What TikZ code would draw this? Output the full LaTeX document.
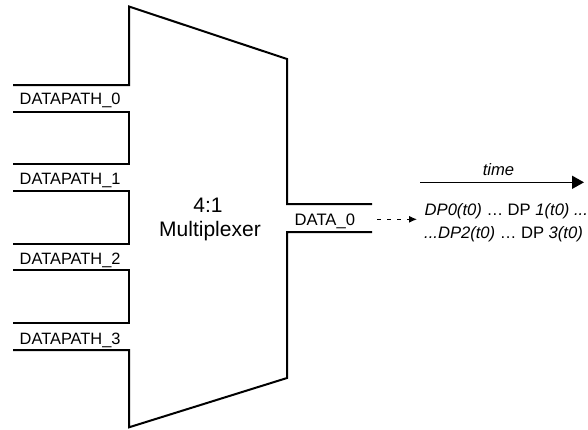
\documentclass[tikz,border=0pt]{standalone}
\usepackage{fontspec}
\setmainfont{Liberation Sans}
\usetikzlibrary{arrows.meta}
\begin{document}
\begin{tikzpicture}[x=1bp,y=-1bp,
  wire/.style={line width=2bp, line join=miter},
  lbl/.style={inner sep=0pt, anchor=base west, font=\fontsize{16.4bp}{19bp}\selectfont},
  mid/.style={inner sep=0pt, anchor=base, font=\fontsize{21bp}{24bp}\selectfont},
  seqtxt/.style={inner sep=0pt, anchor=base west, font=\fontsize{16.6bp}{19bp}\selectfont}]
\useasboundingbox (0,0) rectangle (588,429);
% multiplexer body
\draw[wire] (13,85) -- (129,85) -- (129,6.5) -- (287,59) -- (287,204) -- (372,204);
\draw[wire] (372,232) -- (287,232) -- (287,378) -- (129,427.3) -- (129,350) -- (13,350);
\foreach \a/\b in {112/164, 191/244, 270/323}
  \draw[wire] (13,\a) -- (129,\a) -- (129,\b) -- (13,\b);
% input labels
\node[lbl] (dp0) at (19.5,104.3) {DATAPATH\_0};
\node[lbl] (dp1) at (19.5,184.5) {DATAPATH\_1};
\node[lbl] (dp2) at (19.5,264) {DATAPATH\_2};
\node[lbl] (dp3) at (19.5,344) {DATAPATH\_3};
% title
\node[mid] (ratio) at (208,212.7) {4:1};
\node[mid] (mux) at (210,236.7) {Multiplexer};
% output
\node[lbl, font=\fontsize{16.6bp}{19bp}\selectfont] (out) at (294.5,225.7) {DATA\_0};
\coordinate (dstart) at (377,219.3);
\coordinate (dend) at (417,219.3);
\draw[line width=1bp, dash pattern=on 4bp off 6bp, -{Latex[length=8bp,width=7bp]}] (dstart) -- (dend);
% sequence text
\node[seqtxt] (seq1) at (424.5,215) {\textit{DP0(t0)} … DP \textit{1(t0) ...}};
\node[seqtxt] (seq2) at (424,238.3) {\textit{...DP2(t0)} … DP \textit{3(t0)}};
% time arrow
\coordinate (t0) at (420,182.3);
\coordinate (t1) at (584,182.3);
\draw[line width=1.6bp, -{Triangle[length=12bp,width=13bp]}] (t0) -- (t1);
\node[seqtxt, anchor=base] (time) at (498.5,175.7) {\textit{time}};
\end{tikzpicture}
\end{document}
